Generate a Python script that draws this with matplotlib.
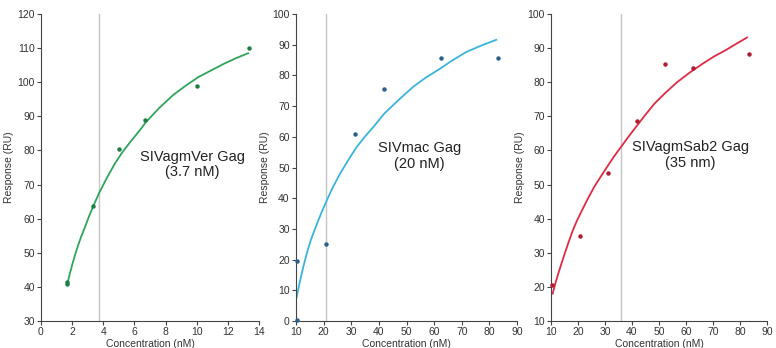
import matplotlib
matplotlib.use('Agg')
import matplotlib.pyplot as plt

plt.rcParams['font.family'] = ['Liberation Sans', 'DejaVu Sans']

# SIVagmVer Gag
ver_conc = [1.67, 1.67, 3.33, 5.0, 6.67, 10.0, 13.33]
ver_resp = [40.8, 41.3, 63.6, 80.4, 89.0, 99.0, 110.0]
ver_fit_x = [1.71, 1.87, 2.03, 2.2, 2.4, 2.6, 2.78, 3.05, 3.36, 3.72, 4.2,
             4.75, 5.2, 5.72, 6.36, 6.72, 7.6, 8.5, 9.3, 10.1, 10.9, 11.7,
             12.5, 13.3]
ver_fit_y = [41.2, 44.2, 46.9, 49.6, 52.4, 55.0, 57.0, 60.3, 63.7, 67.4, 71.7,
             76.2, 79.3, 82.4, 86.0, 88.2, 92.5, 96.3, 99.0, 101.5, 103.4,
             105.3, 107.0, 108.5]
ver_kd = 3.7

# SIVmac Gag
mac_conc = [10.4, 10.4, 20.8, 31.25, 41.7, 62.5, 83.3]
mac_resp = [0.3, 19.5, 25.0, 60.9, 75.6, 85.6, 85.8]
mac_fit_x = [10.25, 11.4, 12.6, 13.9, 15.3, 16.7, 18.05, 19.3, 20.6, 23.2,
             25.9, 28.9, 31.9, 34.9, 37.9, 42.0, 46.9, 52.3, 57.0, 62.0, 66.8,
             71.6, 77.0, 82.5]
mac_fit_y = [7.8, 12.8, 17.5, 22.0, 26.2, 29.6, 32.7, 35.5, 38.2, 43.3,
             47.9, 52.4, 56.6, 60.0, 63.1, 67.6, 71.8, 76.2, 79.3, 82.1, 85.0,
             87.6, 89.7, 91.6]
mac_kd = 20.7

# SIVagmSab2 Gag
sab_conc = [10.4, 20.8, 31.25, 41.7, 52.1, 62.5, 83.3]
sab_resp = [20.6, 34.9, 53.3, 68.6, 85.2, 84.2, 88.4]
sab_fit_x = [10.6, 11.6, 12.7, 13.9, 15.1, 16.6, 18.1, 19.6, 21.2, 23.6, 26.0,
             28.4, 30.8, 33.3, 35.9, 38.4, 41.0, 44.5, 48.3, 52.5, 56.7, 61.5,
             66.3, 70.5, 74.7, 78.7, 82.6]
sab_fit_y = [18.0, 21.0, 23.9, 26.9, 29.8, 33.3, 36.6, 39.4, 42.0, 45.8, 49.3,
             52.3, 55.2, 58.2, 61.0, 63.7, 66.4, 70.0, 73.7, 77.0, 80.0, 82.9,
             85.5, 87.6, 89.4, 91.3, 93.1]
sab_kd = 35.8

panels = [
    dict(conc=ver_conc, resp=ver_resp, fx=ver_fit_x, fy=ver_fit_y, kd=ver_kd,
         line='#2ea55a', dot='#1d7d42', xlim=(0, 14), xticks=range(0, 15, 2),
         ylim=(30, 120), yticks=range(30, 121, 10),
         label='SIVagmVer Gag\n(3.7 nM)', lx=9.7, ly=75.9,
         rect=[41/776, 27/348, 218/776, 307/348]),
    dict(conc=mac_conc, resp=mac_resp, fx=mac_fit_x, fy=mac_fit_y, kd=mac_kd,
         line='#3ab4dc', dot='#2b5f8c', xlim=(10, 90), xticks=range(10, 91, 10),
         ylim=(0, 100), yticks=range(0, 101, 10),
         label='SIVmac Gag\n(20 nM)', lx=54.6, ly=53.8,
         rect=[296/776, 27/348, 221/776, 307/348]),
    dict(conc=sab_conc, resp=sab_resp, fx=sab_fit_x, fy=sab_fit_y, kd=sab_kd,
         line='#dc2c44', dot='#b01c30', xlim=(10, 90), xticks=range(10, 91, 10),
         ylim=(10, 100), yticks=range(10, 101, 10),
         label='SIVagmSab2 Gag\n(35 nm)', lx=61.7, ly=58.6,
         rect=[551/776, 27/348, 216/776, 307/348]),
]

fig = plt.figure(figsize=(7.76, 3.48), dpi=100)

for p in panels:
    ax = fig.add_axes(p['rect'])
    ax.axvline(p['kd'], color='#c4c4c4', linewidth=1.0, zorder=1)
    ax.plot(p['fx'], p['fy'], color=p['line'], linewidth=1.3, zorder=2)
    ax.plot(p['conc'], p['resp'], linestyle='none', marker='o',
            markersize=2.2, color=p['dot'], zorder=3, clip_on=False)
    ax.set_xlim(*p['xlim'])
    ax.set_ylim(*p['ylim'])
    ax.set_xticks(list(p['xticks']))
    ax.set_yticks(list(p['yticks']))
    ax.spines['top'].set_visible(False)
    ax.spines['right'].set_visible(False)
    for s in ('left', 'bottom'):
        ax.spines[s].set_color('#444444')
        ax.spines[s].set_linewidth(0.8)
    ax.tick_params(labelsize=7.5, length=3, width=0.8, color='#444444',
                   labelcolor='#333333', pad=1.5)
    ax.set_xlabel('Concentration (nM)', fontsize=7.5, color='#333333', labelpad=1)
    ax.set_ylabel('Response (RU)', fontsize=7.5, color='#333333', labelpad=2)
    ax.text(p['lx'], p['ly'], p['label'], fontsize=10.5, color='#222222',
            ha='center', va='center', linespacing=1.15)

fig.savefig('out.png', dpi=100)
